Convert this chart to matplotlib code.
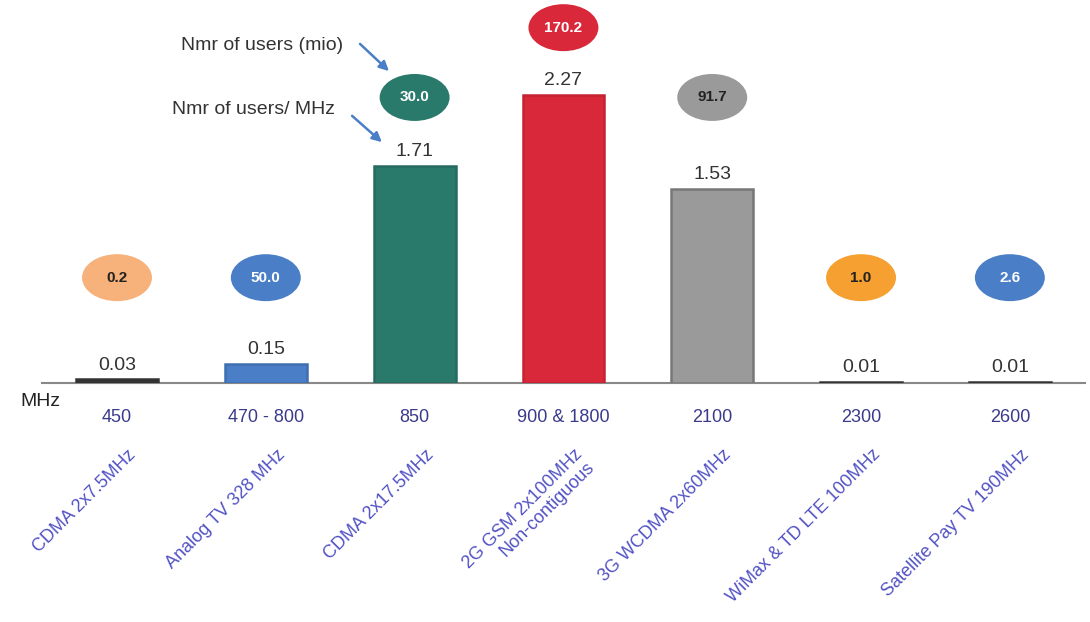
import matplotlib
matplotlib.use("Agg")
import matplotlib.pyplot as plt
from matplotlib.patches import Ellipse, FancyArrowPatch
from matplotlib.transforms import blended_transform_factory

plt.rcParams['font.family'] = ['Liberation Sans', 'DejaVu Sans']

freq_labels = ["450", "470 - 800", "850", "900 & 1800", "2100", "2300", "2600"]
band_labels = ["CDMA 2x7.5MHz", "Analog TV 328 MHz", "CDMA 2x17.5MHz",
               "2G GSM 2x100MHz\nNon-contiguous", "3G WCDMA 2x60MHz",
               "WiMax & TD LTE 100MHz", "Satellite Pay TV 190MHz"]
users_per_mhz = [0.03, 0.15, 1.71, 2.27, 1.53, 0.01, 0.01]
users_mio = [0.2, 50.0, 30.0, 170.2, 91.7, 1.0, 2.6]

bar_colors = ["#333333", "#4a7ec6", "#2a7a6c", "#d8283a", "#9a9a9a", "#333333", "#333333"]
edge_colors = ["#333333", "#3f6fb0", "#256b60", "#c52232", "#777777", "#333333", "#333333"]
ell_colors = ["#f7b27c", "#4a7ec6", "#2a7a6c", "#d8283a", "#9a9a9a", "#f5a030", "#4a7ec6"]
ell_text_colors = ["#222222", "white", "white", "white", "#222222", "#222222", "white"]
ell_y = [0.83, 0.83, 2.25, 2.80, 2.25, 0.83, 0.83]

W, H = 1090, 622
fig = plt.figure(figsize=(W / 100, H / 100), dpi=100)
ax = fig.add_axes([42 / W, 239 / H, (1085 - 42) / W, 383 / H])
ax.set_xlim(-0.504, 6.505)
ax.set_ylim(0, 3.018)

x = list(range(len(freq_labels)))
ax.bar(x, users_per_mhz, width=0.55, color=bar_colors,
       edgecolor=edge_colors, linewidth=1.8, zorder=3)

for xi, v in zip(x, users_per_mhz):
    ax.annotate(f"{v:.2f}", (xi, v), xytext=(0, 4), textcoords="offset points",
                ha="center", va="bottom", fontsize=14, color="#333333")

for xi, yv, val, c, tc in zip(x, ell_y, users_mio, ell_colors, ell_text_colors):
    e = Ellipse((xi, yv), width=0.47, height=0.37, facecolor=c, edgecolor="none",
                clip_on=False, zorder=4)
    ax.add_patch(e)
    ax.text(xi, yv, f"{val:.1f}", ha="center", va="center", fontsize=11,
            fontweight="bold", color=tc, zorder=5,
            family=['Liberation Sans Narrow', 'Liberation Sans', 'DejaVu Sans'])

for s in ["top", "right", "left"]:
    ax.spines[s].set_visible(False)
ax.spines["bottom"].set_color("#888888")
ax.spines["bottom"].set_linewidth(1.5)
ax.set_yticks([])
ax.set_xticks(x)
ax.set_xticklabels(freq_labels, fontsize=13, color="#3a3a8c")
ax.tick_params(axis="x", length=0, pad=19)

trans = blended_transform_factory(ax.transData, ax.transAxes)
for xi, lab in zip(x, band_labels):
    ax.text(xi + 0.07, -0.165, lab, transform=trans, rotation=45,
            rotation_mode="anchor", ha="right", va="top", fontsize=13,
            color="#5252c4", linespacing=1.0)

fig.text(40 / W, 1 - 401 / H, "MHz", ha="center", va="center", fontsize=14, color="#222222")

fig.text(343 / W, 1 - 45 / H, "Nmr of users (mio)", ha="right", va="center",
         fontsize=14, color="#333333")
fig.text(335 / W, 1 - 110 / H, "Nmr of users/ MHz", ha="right", va="center",
         fontsize=14, color="#333333")
arrow = dict(arrowstyle="-|>", color="#4a7ec6", lw=1.8, mutation_scale=14)
fig.add_artist(FancyArrowPatch((358 / W, 1 - 42 / H), (391 / W, 1 - 73 / H),
               transform=fig.transFigure, **arrow))
fig.add_artist(FancyArrowPatch((350 / W, 1 - 114 / H), (384 / W, 1 - 144 / H),
               transform=fig.transFigure, **arrow))

fig.savefig("out.png", dpi=100)
